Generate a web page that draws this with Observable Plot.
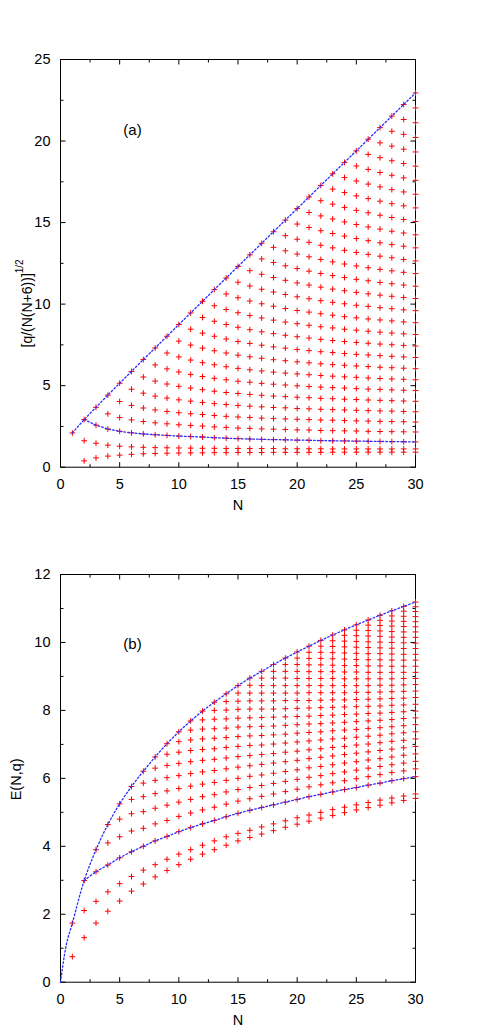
<!DOCTYPE html>
<html>
<head>
<meta charset="utf-8">
<script src="https://cdn.jsdelivr.net/npm/d3@7"></script>
<script src="https://cdn.jsdelivr.net/npm/@observablehq/plot@0.6"></script>
<style>
  html, body { margin: 0; padding: 0; background: #fff; }
  #wrap { position: relative; width: 491px; height: 1028px; overflow: hidden; }
  #panelA, #panelB { position: absolute; left: 0; }
  #panelA { top: 0; }
  #panelB { top: 515px; }
</style>
</head>
<body>
<div id="wrap"><div id="panelA"></div><div id="panelB"></div></div>
<script>
// ---------------- DATA ----------------
// Panel (a): y = [q/(N(N+6))]^{1/2}; one array of values per N
const aN = [1,2,3,4,5,6,7,8,9,10,11,12,13,14,15,16,17,18,19,20,21,22,23,24,25,26,27,28,29,30];
const aValues = [
  [2.10],
  [0.39,1.62,2.92],
  [0.57,1.47,2.58,3.67],
  [0.68,1.35,2.34,3.27,4.42],
  [0.74,1.29,2.20,3.04,4.03,5.15],
  [0.79,1.25,2.11,2.90,3.79,4.78,5.87],
  [0.82,1.22,2.04,2.80,3.63,4.54,5.53,6.60],
  [0.84,1.20,1.99,2.72,3.51,4.36,5.28,6.27,7.31],
  [0.86,1.19,1.95,2.66,3.42,4.24,5.10,6.03,7.00,8.03],
  [0.87,1.18,1.91,2.60,3.34,4.13,4.96,5.84,6.76,7.73,8.75],
  [0.88,1.17,1.88,2.56,3.28,4.05,4.85,5.69,6.57,7.49,8.46,9.46],
  [0.88,1.16,1.85,2.52,3.23,3.97,4.75,5.56,6.41,7.30,8.22,9.18,10.17],
  [0.89,1.16,1.81,2.47,3.17,3.90,4.66,5.45,6.28,7.14,8.03,8.95,9.90,10.89],
  [0.89,1.15,1.78,2.44,3.12,3.84,4.58,5.36,6.16,7.00,7.86,8.75,9.67,10.62,11.60],
  [0.90,1.15,1.75,2.40,3.08,3.79,4.52,5.27,6.06,6.87,7.71,8.58,9.47,10.39,11.34,12.31],
  [0.90,1.14,1.73,2.38,3.05,3.74,4.46,5.21,5.97,6.77,7.59,8.43,9.30,10.19,11.11,12.05,13.02],
  [0.90,1.14,1.71,2.35,3.01,3.70,4.41,5.14,5.90,6.68,7.48,8.30,9.15,10.02,10.91,11.83,12.77,13.73],
  [0.91,1.14,1.69,2.33,2.98,3.66,4.36,5.09,5.83,6.59,7.38,8.19,9.02,9.87,10.74,11.63,12.55,13.48,14.44],
  [0.91,1.13,1.68,2.31,2.96,3.64,4.33,5.04,5.77,6.53,7.30,8.09,8.90,9.73,10.59,11.46,12.35,13.27,14.20,15.15],
  [0.91,1.13,1.66,2.29,2.94,3.60,4.29,4.99,5.72,6.46,7.22,8.00,8.80,9.61,10.45,11.30,12.18,13.07,13.98,14.91,15.86],
  [0.91,1.13,1.65,2.28,2.92,3.58,4.26,4.95,5.67,6.40,7.15,7.92,8.70,9.51,10.33,11.17,12.02,12.90,13.79,14.70,15.62,16.57],
  [0.91,1.13,1.63,2.25,2.89,3.55,4.22,4.91,5.62,6.34,7.08,7.84,8.61,9.41,10.21,11.04,11.88,12.74,13.61,14.50,15.41,16.34,17.28],
  [0.92,1.12,1.62,2.24,2.88,3.53,4.20,4.88,5.58,6.29,7.03,7.77,8.54,9.32,10.11,10.92,11.75,12.59,13.45,14.33,15.22,16.13,17.05,17.99],
  [0.92,1.12,1.61,2.23,2.86,3.51,4.17,4.85,5.54,6.25,6.97,7.71,8.46,9.23,10.02,10.82,11.63,12.46,13.30,14.17,15.04,15.93,16.84,17.76,18.69],
  [0.92,1.12,1.60,2.22,2.84,3.49,4.15,4.82,5.51,6.21,6.92,7.65,8.40,9.16,9.93,10.72,11.52,12.34,13.17,14.02,14.88,15.75,16.64,17.55,18.47,19.40],
  [0.92,1.12,1.59,2.20,2.83,3.47,4.12,4.79,5.47,6.17,6.88,7.60,8.34,9.09,9.86,10.63,11.43,12.23,13.05,13.89,14.73,15.60,16.47,17.36,18.26,19.18,20.11],
  [0.92,1.12,1.58,2.19,2.81,3.45,4.10,4.77,5.44,6.13,6.84,7.55,8.28,9.03,9.78,10.55,11.33,12.13,12.94,13.76,14.60,15.45,16.31,17.19,18.07,18.98,19.89,20.82],
  [0.92,1.12,1.57,2.18,2.80,3.44,4.08,4.74,5.41,6.10,6.80,7.51,8.23,8.97,9.72,10.48,11.25,12.04,12.84,13.65,14.47,15.31,16.16,17.02,17.90,18.79,19.69,20.60,21.53],
  [0.92,1.12,1.56,2.17,2.79,3.42,4.06,4.72,5.39,6.07,6.76,7.47,8.18,8.91,9.65,10.41,11.17,11.95,12.74,13.55,14.36,15.19,16.03,16.88,17.74,18.62,19.50,20.41,21.32,22.24],
  [0.92,1.12,1.55,2.16,2.77,3.40,4.04,4.70,5.36,6.04,6.73,7.43,8.14,8.86,9.60,10.34,11.10,11.87,12.65,13.45,14.25,15.07,15.90,16.74,17.59,18.46,19.33,20.22,21.12,22.03,22.95]
];
// Panel (a) dotted curves
const aUpperN = [1,2,3,4,5,6,7,8,9,10,11,12,13,14,15,16,17,18,19,20,21,22,23,24,25,26,27,28,29,30];
const aUpperV = [2.10,2.92,3.67,4.42,5.15,5.87,6.60,7.31,8.03,8.75,9.46,10.17,10.89,11.60,12.31,13.02,13.73,14.44,15.15,15.86,16.57,17.28,17.99,18.69,19.40,20.11,20.82,21.53,22.24,22.95];
const aLowerN = [2,3,4,5,6,7,8,9,10,11,12,13,14,15,16,17,18,19,20,21,22,23,24,25,26,27,28,29,30];
const aLowerV = [2.92,2.58,2.34,2.20,2.11,2.04,1.99,1.95,1.91,1.88,1.85,1.81,1.78,1.75,1.73,1.71,1.69,1.68,1.66,1.65,1.63,1.62,1.61,1.60,1.59,1.58,1.57,1.56,1.55];

// Panel (b): E(N,q); one array of values per N
const bN = [1,2,3,4,5,6,7,8,9,10,11,12,13,14,15,16,17,18,19,20,21,22,23,24,25,26,27,28,29,30];
const bValues = [
  [0.75,1.74],
  [1.31,2.11,2.99],
  [1.74,2.38,3.25,3.90],
  [2.09,2.66,3.45,4.10,4.64],
  [2.39,2.90,3.66,4.28,4.80,5.25],
  [2.68,3.11,3.84,4.45,4.96,5.38,5.76],
  [2.89,3.30,4.00,4.53,5.02,5.46,5.86,6.21],
  [3.10,3.46,4.16,4.66,5.12,5.55,5.94,6.30,6.63],
  [3.29,3.62,4.29,4.76,5.21,5.63,6.02,6.38,6.71,7.02],
  [3.46,3.77,4.43,4.88,5.30,5.70,6.08,6.44,6.77,7.08,7.37],
  [3.62,3.90,4.55,4.98,5.38,5.77,6.14,6.49,6.82,7.13,7.42,7.69],
  [3.77,4.03,4.66,5.07,5.46,5.83,6.19,6.53,6.85,7.16,7.45,7.72,7.98],
  [3.90,4.16,4.76,5.15,5.52,5.88,6.23,6.56,6.87,7.18,7.46,7.74,8.00,8.24],
  [4.03,4.28,4.87,5.24,5.60,5.94,6.28,6.60,6.91,7.20,7.48,7.75,8.01,8.26,8.49],
  [4.16,4.38,4.97,5.33,5.67,6.00,6.33,6.64,6.94,7.23,7.51,7.77,8.03,8.27,8.51,8.73],
  [4.26,4.47,5.06,5.40,5.73,6.06,6.37,6.67,6.97,7.25,7.52,7.78,8.04,8.28,8.51,8.74,8.95],
  [4.36,4.57,5.14,5.47,5.79,6.10,6.41,6.70,6.98,7.26,7.53,7.79,8.04,8.28,8.51,8.73,8.95,9.15],
  [4.46,4.66,5.22,5.54,5.85,6.15,6.45,6.73,7.01,7.28,7.54,7.80,8.04,8.28,8.51,8.73,8.95,9.15,9.35],
  [4.56,4.75,5.30,5.61,5.91,6.20,6.49,6.77,7.04,7.30,7.56,7.81,8.05,8.29,8.51,8.73,8.95,9.15,9.35,9.54],
  [4.65,4.84,5.38,5.68,5.97,6.25,6.53,6.80,7.07,7.33,7.58,7.82,8.06,8.29,8.51,8.73,8.94,9.15,9.35,9.54,9.72],
  [4.74,4.92,5.46,5.75,6.03,6.31,6.58,6.84,7.10,7.35,7.60,7.83,8.07,8.29,8.52,8.73,8.94,9.14,9.34,9.53,9.71,9.89],
  [4.83,5.00,5.53,5.81,6.08,6.35,6.62,6.87,7.13,7.37,7.61,7.85,8.08,8.30,8.52,8.73,8.94,9.14,9.34,9.53,9.71,9.89,10.06],
  [4.91,5.08,5.60,5.87,6.14,6.40,6.66,6.91,7.16,7.40,7.63,7.86,8.09,8.31,8.52,8.73,8.94,9.14,9.33,9.52,9.70,9.88,10.05,10.22],
  [4.99,5.15,5.67,5.93,6.19,6.45,6.70,6.94,7.18,7.42,7.65,7.88,8.10,8.31,8.52,8.73,8.93,9.13,9.32,9.51,9.69,9.87,10.04,10.21,10.37],
  [5.07,5.22,5.73,5.99,6.24,6.49,6.74,6.98,7.21,7.44,7.67,7.89,8.11,8.32,8.53,8.73,8.93,9.13,9.32,9.50,9.68,9.86,10.03,10.20,10.36,10.52],
  [5.14,5.29,5.80,6.05,6.30,6.54,6.78,7.01,7.24,7.47,7.69,7.91,8.12,8.33,8.53,8.73,8.93,9.12,9.31,9.49,9.67,9.85,10.02,10.19,10.35,10.51,10.66],
  [5.21,5.36,5.86,6.11,6.35,6.58,6.82,7.05,7.27,7.49,7.71,7.92,8.13,8.34,8.54,8.74,8.93,9.12,9.31,9.49,9.67,9.84,10.01,10.18,10.34,10.50,10.65,10.80],
  [5.28,5.42,5.93,6.17,6.40,6.63,6.86,7.09,7.31,7.52,7.73,7.94,8.15,8.35,8.55,8.74,8.93,9.12,9.30,9.48,9.66,9.83,10.00,10.16,10.32,10.48,10.63,10.78,10.93],
  [5.35,5.48,5.99,6.22,6.45,6.68,6.90,7.12,7.34,7.55,7.76,7.96,8.16,8.36,8.56,8.75,8.94,9.12,9.30,9.48,9.65,9.82,9.99,10.15,10.31,10.47,10.62,10.77,10.92,11.06],
  [5.41,5.54,6.05,6.28,6.50,6.72,6.94,7.16,7.37,7.58,7.78,7.98,8.18,8.38,8.57,8.76,8.94,9.12,9.30,9.48,9.65,9.82,9.98,10.15,10.31,10.46,10.61,10.76,10.91,11.05,11.19]
];
// Panel (b) dotted curves
const bUpperN = [0,0.5,1,2,3,4,5,6,7,8,9,10,11,12,13,14,15,16,17,18,19,20,21,22,23,24,25,26,27,28,29,30];
const bUpperV = [0,1.12,1.74,2.99,3.90,4.64,5.25,5.76,6.21,6.63,7.02,7.37,7.69,7.98,8.24,8.49,8.73,8.95,9.15,9.35,9.54,9.72,9.89,10.06,10.22,10.37,10.52,10.66,10.80,10.93,11.06,11.19];
const bLowerN = [2,3,4,5,6,7,8,9,10,11,12,13,14,15,16,17,18,19,20,21,22,23,24,25,26,27,28,29,30];
const bLowerV = [2.99,3.25,3.45,3.66,3.84,4.00,4.16,4.29,4.43,4.55,4.66,4.76,4.87,4.97,5.06,5.14,5.22,5.30,5.38,5.46,5.53,5.60,5.67,5.73,5.80,5.86,5.93,5.99,6.05];

// Axis ticks
const xMajor = [0,5,10,15,20,25,30];
const xMinor = [2.5,7.5,12.5,17.5,22.5,27.5];
const aYMajor = [0,5,10,15,20,25];
const aYMinor = [2.5,7.5,12.5,17.5,22.5];
const bYMajor = [0,2,4,6,8,10,12];
const bYMinor = [1,3,5,7,9,11];

// ---------------- DRAWING ----------------
const FONT = "'Liberation Sans', Arial, Helvetica, sans-serif";
const RED = "#ff0000";
const BLUE = "#2a2aff";

const plusSymbol = {
  draw(ctx) { const r = 2.9; ctx.moveTo(-r, 0); ctx.lineTo(r, 0); ctx.moveTo(0, -r); ctx.lineTo(0, r); }
};
const tickSym = (dx, dy) => ({ draw(ctx) { ctx.moveTo(0, 0); ctx.lineTo(dx, dy); } });

function points(ns, values) {
  return ns.flatMap((n, i) => values[i].map(v => ({N: n, v})));
}
function curve(ns, vs) { return ns.map((n, i) => ({N: n, v: vs[i]})); }

function tickMarks(yDomain, yMajor, yMinor) {
  const M = 5, m = 3;
  const tk = (data, x, y, sym) => Plot.dot(data, {x, y, symbol: sym, stroke: "#000", strokeWidth: 1, fill: "none"});
  return [
    tk(xMajor, d => d, () => yDomain[0], tickSym(0, -M)),
    tk(xMinor, d => d, () => yDomain[0], tickSym(0, -m)),
    tk(xMajor, d => d, () => yDomain[1], tickSym(0, M)),
    tk(xMinor, d => d, () => yDomain[1], tickSym(0, m)),
    tk(yMajor, () => 0, d => d, tickSym(M, 0)),
    tk(yMinor, () => 0, d => d, tickSym(m, 0)),
    tk(yMajor, () => 30, d => d, tickSym(-M, 0)),
    tk(yMinor, () => 30, d => d, tickSym(-m, 0))
  ];
}

function panel(cfg) {
  const lineStyle = {x: "N", y: "v", stroke: BLUE, strokeWidth: 1.3, strokeDasharray: "1.6,2.2", curve: cfg.curve};
  return Plot.plot({
    width: 491,
    height: cfg.height,
    marginLeft: 60, marginRight: 76, marginTop: 59, marginBottom: cfg.marginBottom,
    x: {domain: [0, 30]},
    y: {domain: cfg.yDomain},
    style: {fontFamily: FONT, fontSize: "14.5px", background: "#fff", color: "#000", overflow: "visible"},
    marks: [
      Plot.frame({stroke: "#000", strokeWidth: 1}),
      ...tickMarks(cfg.yDomain, cfg.yMajor, cfg.yMinor),
      Plot.axisX({ticks: xMajor, tickSize: 0, tickPadding: 12, label: null, fontSize: 14.5}),
      Plot.axisY({ticks: cfg.yMajor, tickSize: 0, tickPadding: 10, label: null, fontSize: 14.5}),
      Plot.dot(cfg.points, {x: "N", y: "v", symbol: plusSymbol, stroke: RED, fill: "none", strokeWidth: 1}),
      Plot.line(cfg.upper, lineStyle),
      Plot.line(cfg.lower, lineStyle),
      Plot.text([cfg.tag], {frameAnchor: "top-left", dx: 72, dy: cfg.tagDy, textAnchor: "middle", lineAnchor: "middle", fontSize: 15}),
      Plot.text(["N"], {frameAnchor: "bottom", dy: 38, textAnchor: "middle", lineAnchor: "middle", fontSize: 14.5}),
      ...cfg.ylabel
    ]
  });
}

const figA = panel({
  height: 515, marginBottom: 48.3, yDomain: [0, 25], yMajor: aYMajor, yMinor: aYMinor,
  points: points(aN, aValues), upper: curve(aUpperN, aUpperV), lower: curve(aLowerN, aLowerV),
  curve: "linear", tag: "(a)", tagDy: 71,
  ylabel: [
    Plot.text(["[q/(N(N+6))]"], {frameAnchor: "left", dx: -33, dy: 47, rotate: -90, textAnchor: "middle", lineAnchor: "middle", fontSize: 14}),
    Plot.text(["1/2"], {frameAnchor: "left", dx: -41, dy: 3, rotate: -90, textAnchor: "middle", lineAnchor: "middle", fontSize: 10})
  ]
});
document.getElementById("panelA").append(figA);

const figB = panel({
  height: 513, marginBottom: 46.3, yDomain: [0, 12], yMajor: bYMajor, yMinor: bYMinor,
  points: points(bN, bValues), upper: curve(bUpperN, bUpperV), lower: curve(bLowerN, bLowerV),
  curve: "catmull-rom", tag: "(b)", tagDy: 70,
  ylabel: [
    Plot.text(["E(N,q)"], {frameAnchor: "left", dx: -44, dy: 1, rotate: -90, textAnchor: "middle", lineAnchor: "middle", fontSize: 14.5})
  ]
});
document.getElementById("panelB").append(figB);
</script>
</body>
</html>
